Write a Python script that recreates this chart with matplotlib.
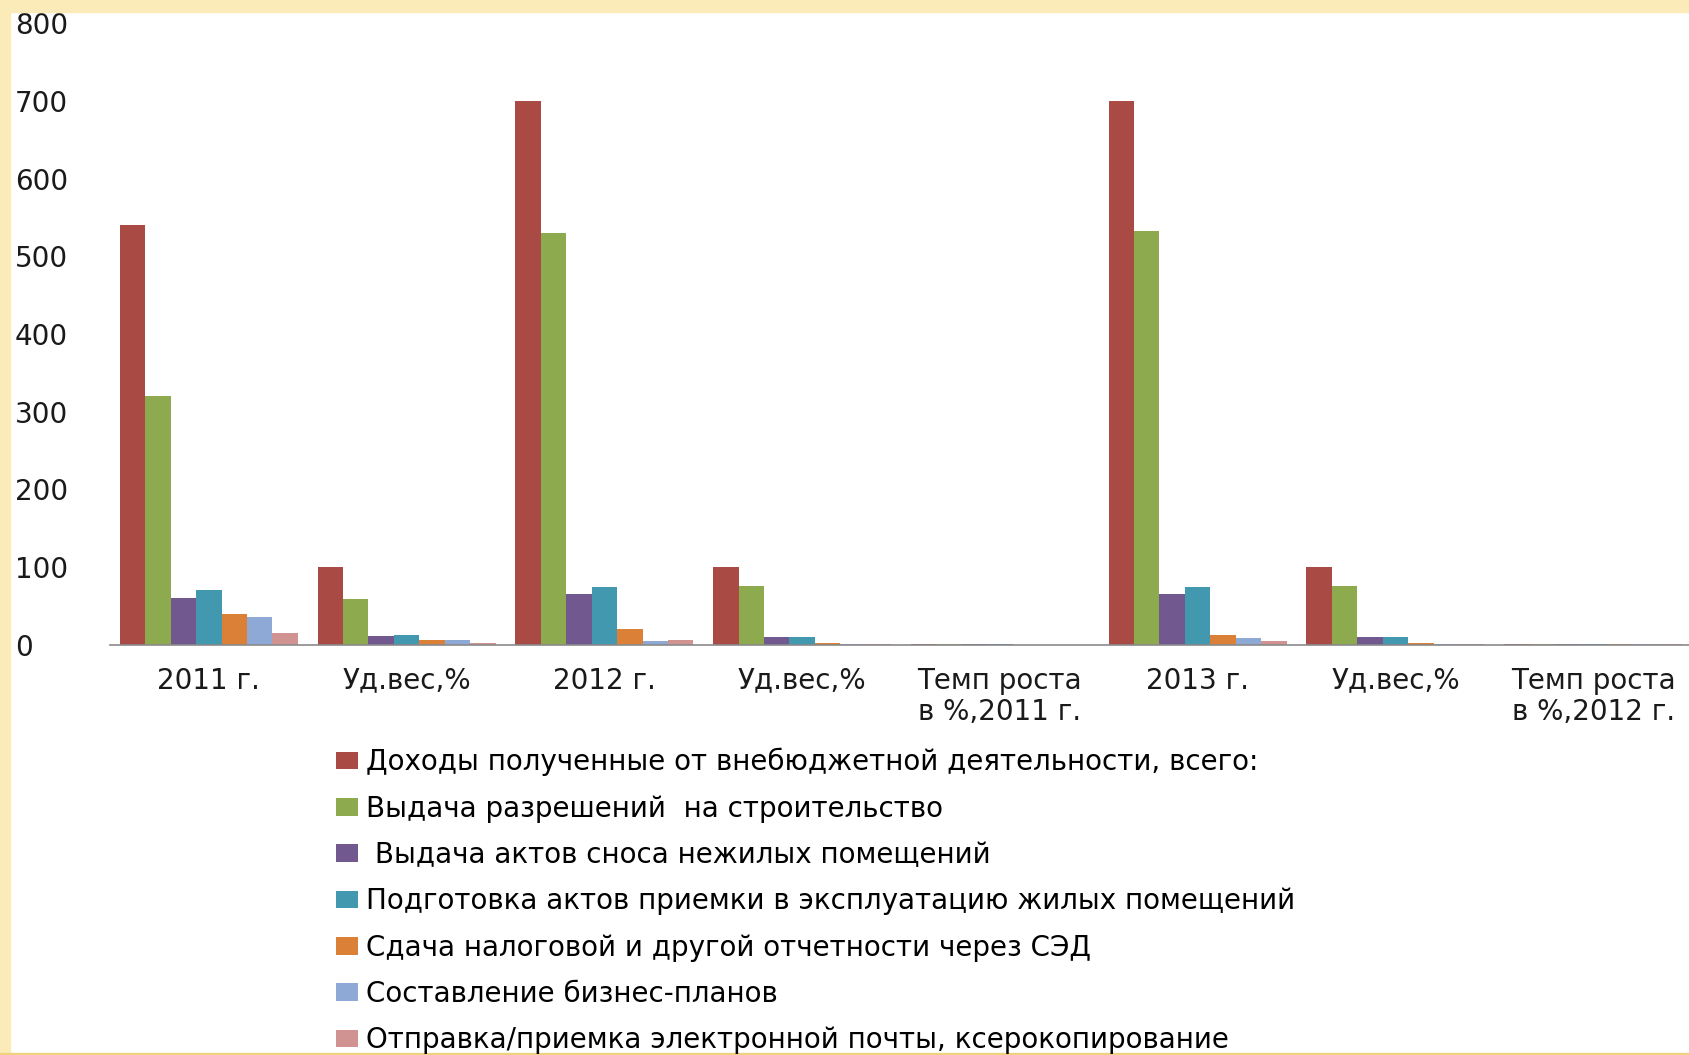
import matplotlib
matplotlib.use('Agg')
import matplotlib.pyplot as plt
import numpy as np
from matplotlib.patches import Rectangle

categories = ['2011 г.', 'Уд.вес,%', '2012 г.', 'Уд.вес,%', 'Темп роста\nв %,2011 г.',
              '2013 г.', 'Уд.вес,%', 'Темп роста\nв %,2012 г.']

series_names = [
    'Доходы полученные от внебюджетной деятельности, всего:',
    'Выдача разрешений  на строительство',
    ' Выдача актов сноса нежилых помещений',
    'Подготовка актов приемки в эксплуатацию жилых помещений',
    'Сдача налоговой и другой отчетности через СЭД',
    'Составление бизнес-планов',
    'Отправка/приемка электронной почты, ксерокопирование',
]

income_total = [540, 100, 700, 100, 1.3, 700, 100, 1.0]
building_permits = [320, 59, 530, 76, 1.66, 532, 76, 1.0]
demolition_acts = [61, 12, 66, 10, 1.1, 66, 10, 1.0]
acceptance_acts = [71, 13, 74, 10, 1.05, 75, 10, 1.0]
tax_reports = [40, 7, 20, 2, 0.5, 13, 2, 0.65]
business_plans = [36, 7, 5, 1, 0.14, 9, 1, 1.8]
email_copying = [15, 3, 7, 1, 0.47, 5, 1, 0.7]

values = [income_total, building_permits, demolition_acts, acceptance_acts,
          tax_reports, business_plans, email_copying]

colors = ['#A94A45', '#8DAA4E', '#71588F', '#4198AF', '#DA8137', '#8EA9D5', '#D09391']

W, H = 1690, 1055
fig = plt.figure(figsize=(W / 100, H / 100), dpi=100, facecolor='white')

# slide background strips
cream = '#FBEBB8'
fig.patches.append(Rectangle((0, 1 - 12 / H), 1, 12 / H, transform=fig.transFigure,
                             color=cream, zorder=0))
fig.patches.append(Rectangle((0, 0), 10 / W, 1, transform=fig.transFigure,
                             color=cream, zorder=0))
fig.patches.append(Rectangle((0, 0), 1, 2.5 / H, transform=fig.transFigure,
                             color='#EED27E', zorder=0))

ax = fig.add_axes([110 / W, 1 - 645 / H, 1582 / W, 622 / H])
ax.set_facecolor('none')

x = np.arange(len(categories))
n = len(values)
group = 0.9
w = group / n
bars = []
for i, (vals, c) in enumerate(zip(values, colors)):
    b = ax.bar(x - group / 2 + w * (i + 0.5), vals, width=w, color=c, label=series_names[i])
    bars.append(b)

ax.set_xlim(-0.5, len(categories) - 0.5)
ax.set_ylim(0, 800)
ax.set_yticks(range(0, 801, 100))
ax.set_xticks(x)
ax.set_xticklabels(categories, fontsize=20, color='#1a1a1a', linespacing=1.15)
ax.tick_params(axis='x', length=0, pad=15.5)
ax.tick_params(axis='y', length=0, pad=68.4, labelsize=20, labelcolor='#1a1a1a')
for lab in ax.get_yticklabels():
    lab.set_ha('left')

for s in ['left', 'top', 'right']:
    ax.spines[s].set_visible(False)
ax.spines['bottom'].set_color('#8a8a8a')
ax.spines['bottom'].set_linewidth(1.2)

fig.legend(handles=bars, labels=series_names, loc='upper left',
           bbox_to_anchor=(336 / W, 1 - 748 / H), frameon=False,
           fontsize=20, handlelength=0.79, handleheight=0.6, handletextpad=0.3,
           labelspacing=0.66, borderpad=0, borderaxespad=0)

plt.savefig('out.png', dpi=100, facecolor='white')
